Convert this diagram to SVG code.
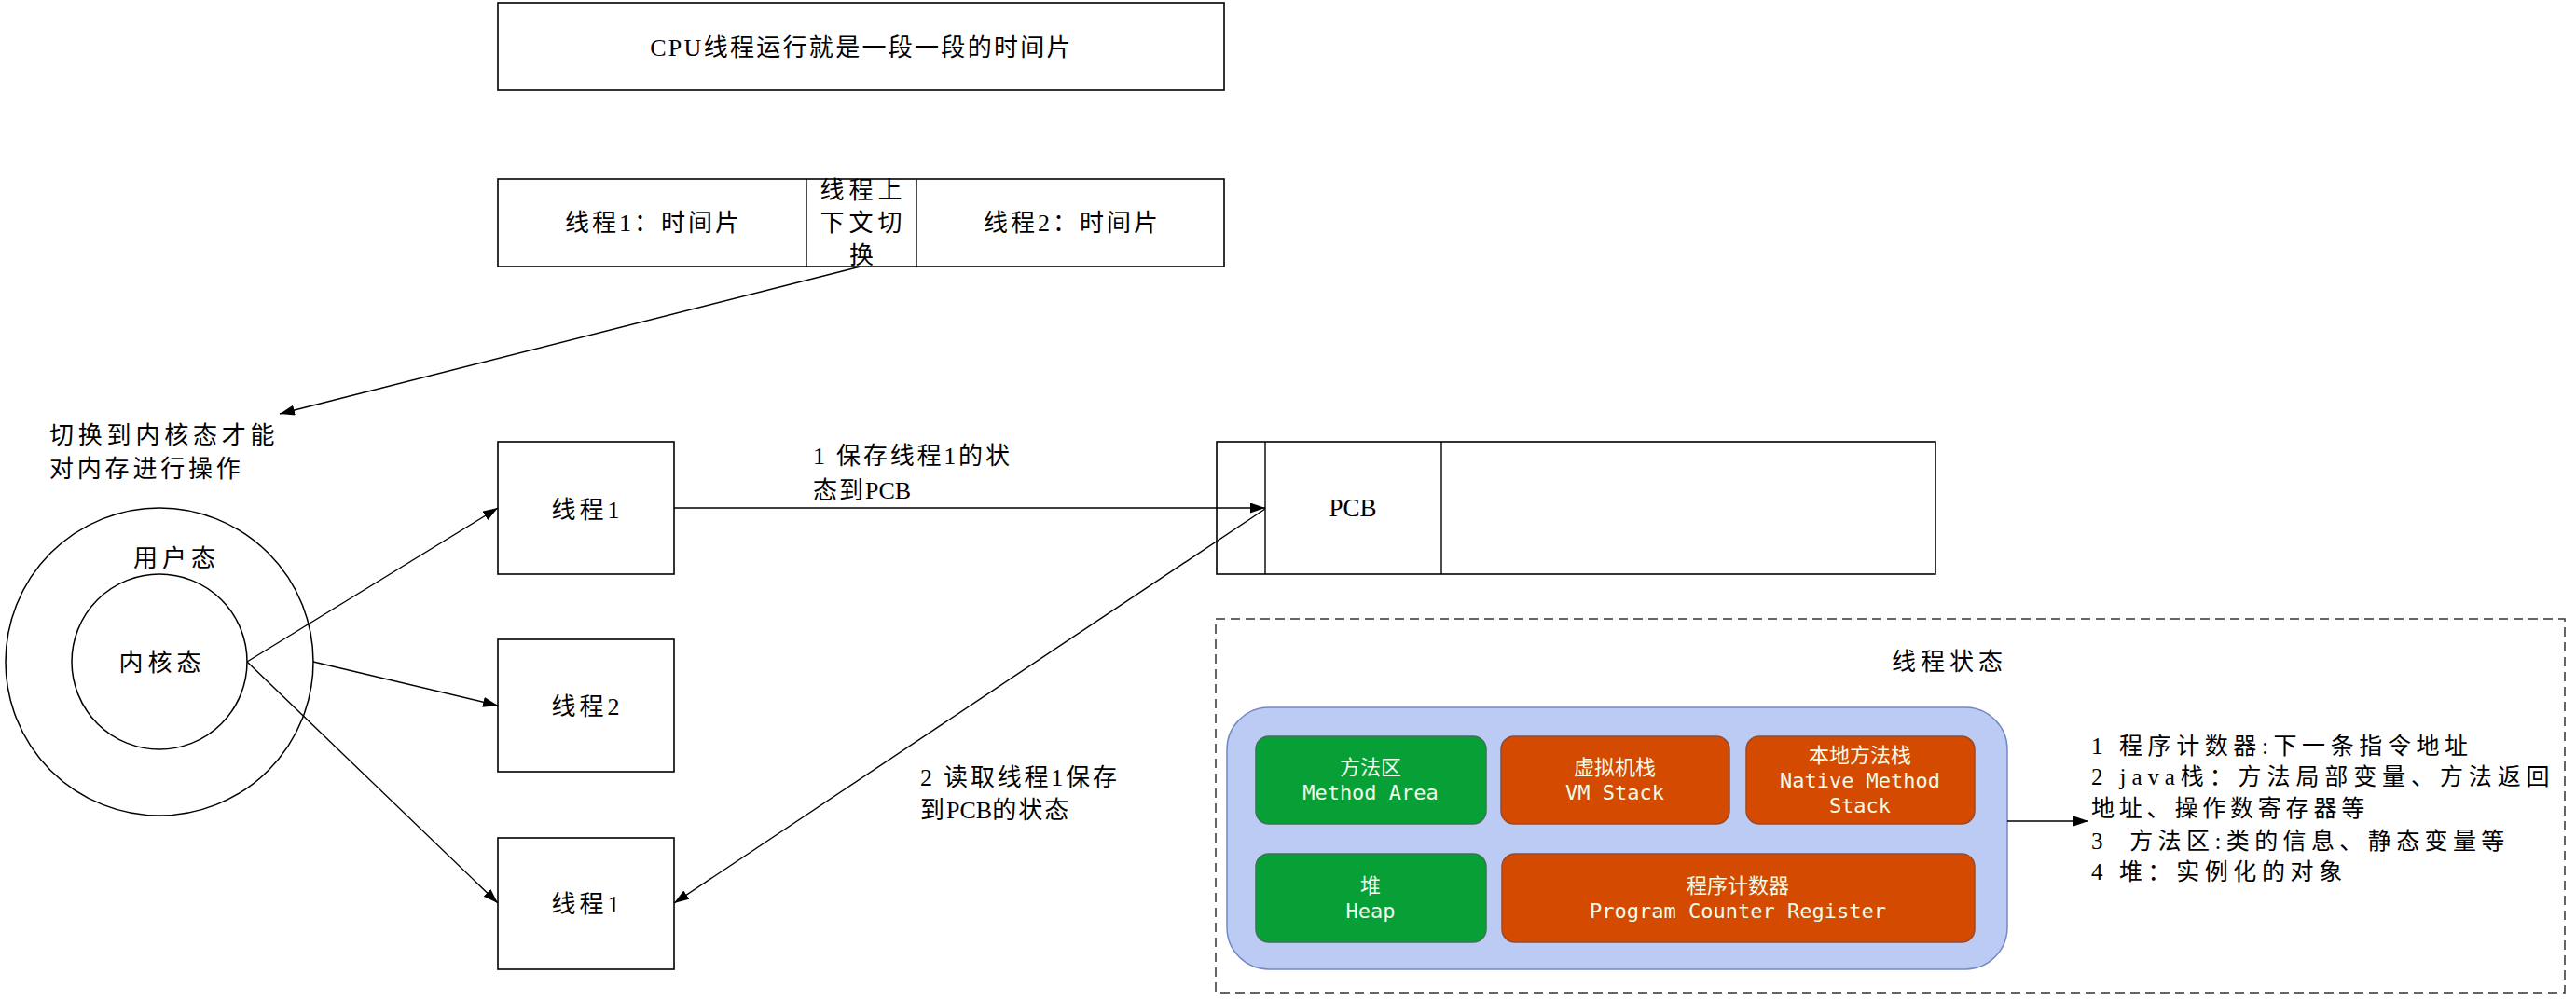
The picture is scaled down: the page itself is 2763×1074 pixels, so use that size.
<svg xmlns="http://www.w3.org/2000/svg" width="2763" height="1074" viewBox="0 0 2763 1074">
<style>
  .box { fill: #ffffff; stroke: #000000; stroke-width: 1.6; }
  .ln { fill: none; stroke: #000000; stroke-width: 1.4; }
  .lbl { font-family: "Liberation Serif", "Noto Sans CJK SC", serif; font-size: 26px; fill: #000000; }
  .mid { text-anchor: middle; }
  .inner { stroke-width: 1.5; }
  .green { fill: #06a037; stroke: #3f7255; }
  .orange { fill: #d34a00; stroke: #9a4a2a; }
  .cn { font-family: "Noto Sans CJK SC", sans-serif; font-size: 22px; fill: #f0fae8; text-anchor: middle; }
  .en { font-family: "DejaVu Sans Mono", "Liberation Mono", monospace; font-size: 22px; fill: #f0fae8; text-anchor: middle; }
  .note { font-size: 25px; }
</style>
<defs>
  <marker id="arr" markerUnits="userSpaceOnUse" markerWidth="18" markerHeight="12" refX="16" refY="5.5" orient="auto">
    <path d="M0,0 L16,5.5 L0,11 z" fill="#000000"/>
  </marker>
</defs>
<rect width="2763" height="1074" fill="#ffffff"/>

<g id="cpu-title">
  <rect class="box" x="534" y="3" width="779" height="94"/>
  <text class="lbl mid" x="924" y="60" style="font-size:26px;letter-spacing:2.3px">CPU线程运行就是一段一段的时间片</text>
</g>

<g id="timeline">
  <rect class="box" x="534" y="192" width="779" height="94"/>
  <line class="ln" x1="865" y1="192" x2="865" y2="286"/>
  <line class="ln" x1="983" y1="192" x2="983" y2="286"/>
  <text class="lbl mid" x="701" y="248" style="letter-spacing:3px">线程1：时间片</text>
  <text class="lbl mid" x="926" y="213" style="letter-spacing:5px">线程上</text>
  <text class="lbl mid" x="926" y="248" style="letter-spacing:5px">下文切</text>
  <text class="lbl mid" x="924" y="283">换</text>
  <text class="lbl mid" x="1150" y="248" style="letter-spacing:3px">线程2：时间片</text>
</g>

<g id="kernel-note">
  <text class="lbl" x="53" y="476" style="letter-spacing:4.8px">切换到内核态才能</text>
  <text class="lbl" x="53" y="512" style="letter-spacing:3.8px">对内存进行操作</text>
</g>

<g id="user-mode">
  <circle cx="171" cy="710" r="165" fill="#ffffff" stroke="#000000" stroke-width="1.5"/>
  <text class="lbl" x="143" y="608" style="letter-spacing:5px">用户态</text>
</g>
<g id="kernel-mode">
  <circle cx="171" cy="710" r="94" fill="#ffffff" stroke="#000000" stroke-width="1.5"/>
  <text class="lbl mid" x="174" y="720" style="letter-spacing:5px">内核态</text>
</g>

<g id="thread1-top">
  <rect class="box" x="534" y="474" width="189" height="142"/>
  <text class="lbl mid" x="630" y="556" style="letter-spacing:4px">线程1</text>
</g>
<g id="thread2">
  <rect class="box" x="534" y="686" width="189" height="142"/>
  <text class="lbl mid" x="630" y="767" style="letter-spacing:4px">线程2</text>
</g>
<g id="thread1-bottom">
  <rect class="box" x="534" y="899" width="189" height="141"/>
  <text class="lbl mid" x="630" y="979" style="letter-spacing:4px">线程1</text>
</g>

<g id="pcb">
  <rect class="box" x="1305" y="474" width="771" height="142"/>
  <line class="ln" x1="1357" y1="474" x2="1357" y2="616"/>
  <line class="ln" x1="1546" y1="474" x2="1546" y2="616"/>
  <text class="lbl mid" x="1451" y="554" style="font-size:27px">PCB</text>
</g>

<g id="thread-state">
  <rect x="1304" y="664" width="1447" height="401" fill="none" stroke="#333333" stroke-width="1.5" stroke-dasharray="10 6"/>
  <text class="lbl mid" x="2091" y="719" style="letter-spacing:5px">线程状态</text>
  <rect x="1316" y="759" width="837" height="281" rx="45" ry="45" fill="#bccbf3" stroke="#7388c4" stroke-width="1.5"/>
</g>

<g id="method-area">
  <rect class="green inner" x="1347" y="790" width="247" height="94" rx="14" ry="14"/>
  <text class="cn" x="1470" y="831">方法区</text>
  <text class="en" x="1470" y="858">Method Area</text>
</g>
<g id="vm-stack">
  <rect class="orange inner" x="1610" y="790" width="245" height="94" rx="14" ry="14"/>
  <text class="cn" x="1732" y="831">虚拟机栈</text>
  <text class="en" x="1732" y="858">VM Stack</text>
</g>
<g id="native-stack">
  <rect class="orange inner" x="1873" y="790" width="245" height="94" rx="14" ry="14"/>
  <text class="cn" x="1995" y="818">本地方法栈</text>
  <text class="en" x="1995" y="845">Native Method</text>
  <text class="en" x="1995" y="872">Stack</text>
</g>
<g id="heap">
  <rect class="green inner" x="1347" y="916" width="247" height="95" rx="14" ry="14"/>
  <text class="cn" x="1470" y="958">堆</text>
  <text class="en" x="1470" y="985">Heap</text>
</g>
<g id="pc-register">
  <rect class="orange inner" x="1611" y="916" width="507" height="95" rx="14" ry="14"/>
  <text class="cn" x="1864" y="958">程序计数器</text>
  <text class="en" x="1864" y="985">Program Counter Register</text>
</g>

<g id="state-notes">
  <text class="lbl note" x="2243" y="809" style="letter-spacing:5.6px">1 程序计数器:下一条指令地址</text>
  <text class="lbl note" x="2243" y="842" style="letter-spacing:5.9px">2 java栈：方法局部变量、方法返回</text>
  <text class="lbl note" x="2243" y="876" style="letter-spacing:4.8px">地址、操作数寄存器等</text>
  <text class="lbl note" x="2243" y="911" style="letter-spacing:5.4px;white-space:pre" xml:space="preserve">3  方法区:类的信息、静态变量等</text>
  <text class="lbl note" x="2243" y="944" style="letter-spacing:5.6px">4 堆：实例化的对象</text>
</g>

<g id="edge-labels">
  <text class="lbl" x="872" y="498" style="letter-spacing:2.8px">1 保存线程1的状</text>
  <text class="lbl" x="872" y="535" style="letter-spacing:2px">态到<tspan style="letter-spacing:0px">PCB</tspan></text>
  <text class="lbl" x="987" y="843" style="letter-spacing:2.8px">2 读取线程1保存</text>
  <text class="lbl" x="987" y="878" style="letter-spacing:2px">到<tspan style="letter-spacing:0px">PCB</tspan>的状态</text>
</g>

<g id="connectors">
  <line class="ln" x1="923" y1="286" x2="300" y2="444" marker-end="url(#arr)"/>
  <line class="ln" x1="265" y1="710" x2="534" y2="545" marker-end="url(#arr)"/>
  <line class="ln" x1="336" y1="710" x2="534" y2="757" marker-end="url(#arr)"/>
  <line class="ln" x1="265" y1="710" x2="534" y2="969" marker-end="url(#arr)"/>
  <line class="ln" x1="723" y1="545" x2="1357" y2="545" marker-end="url(#arr)"/>
  <line class="ln" x1="1357" y1="546" x2="723" y2="969" marker-end="url(#arr)"/>
  <line class="ln" x1="2153" y1="881" x2="2240" y2="881" marker-end="url(#arr)"/>
</g>
</svg>
